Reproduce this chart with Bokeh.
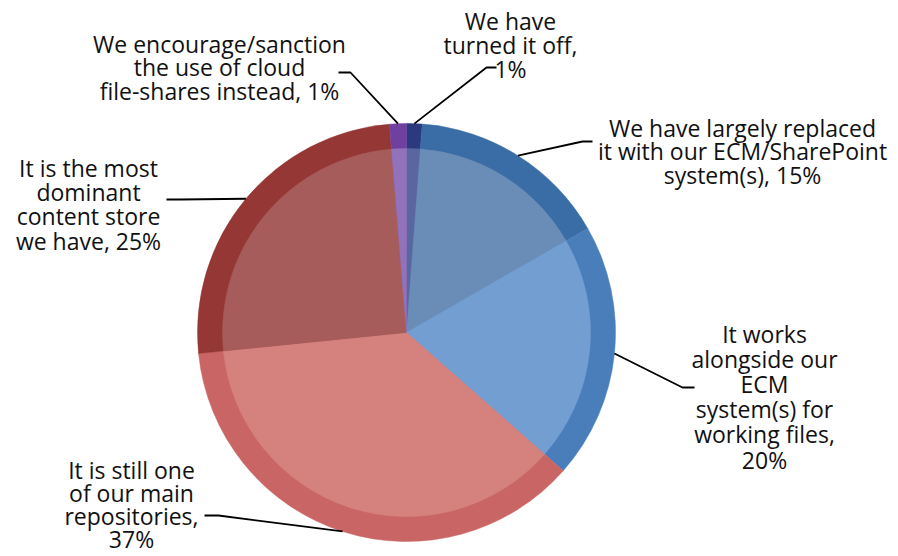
import numpy as np
from bokeh.plotting import figure
from bokeh.models import ColumnDataSource, Range1d
from bokeh.embed import file_html
from bokeh.resources import INLINE
from bokeh.core.properties import value

# ---------------- data ----------------
categories = [
    "We have turned it off",
    "We have largely replaced it with our ECM/SharePoint system(s)",
    "It works alongside our ECM system(s) for working files",
    "It is still one of our main repositories",
    "It is the most dominant content store we have",
    "We encourage/sanction the use of cloud file-shares instead",
]
shares = [1.2, 15.5, 19.8, 36.9, 25.3, 1.3]
pct_labels = ["1%", "15%", "20%", "37%", "25%", "1%"]
label_templates = [
    ["We have", "turned it off,", "{}"],
    ["We have largely replaced", "it with our ECM/SharePoint", "system(s), {}"],
    ["It works", "alongside our", "ECM", "system(s) for", "working files,", "{}"],
    ["It is still one", "of our main", "repositories,", "{}"],
    ["It is the most", "dominant", "content store", "we have, {}"],
    ["We encourage/sanction", "the use of cloud", "file-shares instead, {}"],
]

# ---------------- style / layout ----------------
outer_colors = ["#2B3A7E", "#3A6DA5", "#4A7EBB", "#C96565", "#953735", "#7040A0"]
inner_colors = ["#5A66A0", "#6A8DB8", "#729ED2", "#D5827F", "#A65C5A", "#9272BA"]
W, H = 898, 556
CX, CY = 406, 332          # pie centre (pixels from top-left)
R_OUT, R_IN = 209, 184
FONT = "Open Sans"
FONT_SIZE = "23px"
# label block: centre x, first line y, line spacing (pixels from top-left)
label_pos = [(510, 20, 24.0), (742, 127, 23.5), (764, 333, 25.2),
             (131, 469, 23.0), (88, 167, 24.4), (219, 43, 23.5)]
# leader elbow and end points
leader_pts = [[(486, 67), (496, 67)], [(582, 141), (592, 141)],
              [(682, 387), (694, 387)], [(218, 515), (204, 515)],
              [(180, 199), (166, 199)], [(350, 72), (338, 72)]]


def fy(y):
    return H - y


total = float(sum(shares))
fr = np.array(shares) / total
cum_end = np.cumsum(fr)
cum_start = cum_end - fr
start_ang = np.pi / 2 - 2 * np.pi * cum_start
end_ang = np.pi / 2 - 2 * np.pi * cum_end
mid_frac = (cum_start + cum_end) / 2

p = figure(width=W, height=H, x_range=Range1d(0, W), y_range=Range1d(0, H),
           output_backend="svg", toolbar_location=None, min_border=0,
           outline_line_color=None, background_fill_color="white",
           border_fill_color="white")
p.axis.visible = False
p.grid.visible = False

src = ColumnDataSource(dict(cat=categories, start=start_ang, end=end_ang,
                            outer=outer_colors, inner=inner_colors))
p.wedge(x=CX, y=fy(CY), radius=R_OUT, start_angle="start", end_angle="end",
        direction="clock", fill_color="outer", line_color="outer",
        line_width=0.5, source=src)
p.wedge(x=CX, y=fy(CY), radius=R_IN, start_angle="start", end_angle="end",
        direction="clock", fill_color="inner", line_color="inner",
        line_width=0.5, source=src)

# leader lines
xs, ys = [], []
for f, pts in zip(mid_frac, leader_pts):
    a = 2 * np.pi * f
    sx = CX + R_OUT * np.sin(a)
    sy = CY - R_OUT * np.cos(a)
    xs.append([sx] + [q[0] for q in pts])
    ys.append([fy(sy)] + [fy(q[1]) for q in pts])
p.multi_line(xs=xs, ys=ys, line_color="black", line_width=1.8)

# labels
tx, ty, tt = [], [], []
for tmpl, pct, (lx, ly, sp) in zip(label_templates, pct_labels, label_pos):
    for i, line in enumerate(tmpl):
        tx.append(lx)
        ty.append(fy(ly + i * sp))
        tt.append(line.format(pct))
p.text(x=tx, y=ty, text=tt, text_align="center", text_baseline="middle",
       text_font=value(FONT), text_font_size=FONT_SIZE, text_color="#111111")

open("out.html", "w").write(file_html(p, INLINE))
